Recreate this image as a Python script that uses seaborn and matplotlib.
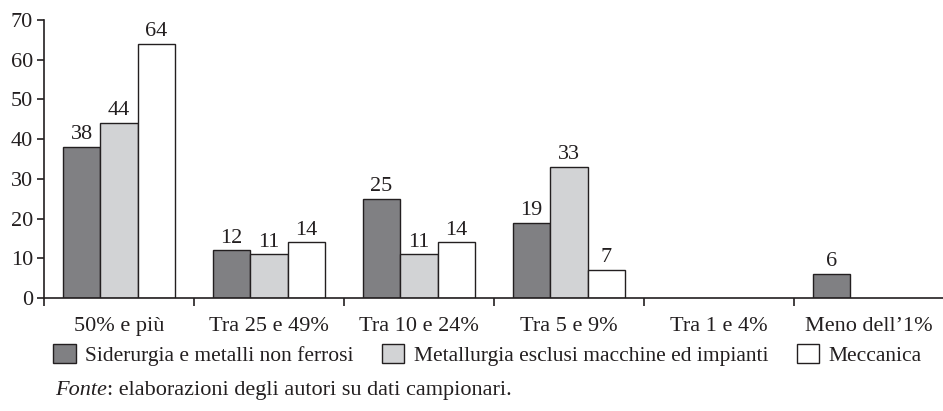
import matplotlib
matplotlib.use('Agg')
import matplotlib.pyplot as plt
import seaborn as sns
import pandas as pd
import numpy as np

# dati
categorie = ['50% e più', 'Tra 25 e 49%', 'Tra 10 e 24%', 'Tra 5 e 9%', 'Tra 1 e 4%', 'Meno dell\u20191%']
settori = ['Siderurgia e metalli non ferrosi', 'Metallurgia esclusi macchine ed impianti', 'Meccanica']
siderurgia = [38, 12, 25, 19, np.nan, 6]
metallurgia = [44, 11, 11, 33, np.nan, np.nan]
meccanica = [64, 14, 14, 7, np.nan, np.nan]
colori = ['#808083', '#d2d3d5', '#ffffff']

df = pd.DataFrame({
    'categoria': categorie * 3,
    'settore': [settori[0]] * 6 + [settori[1]] * 6 + [settori[2]] * 6,
    'valore': siderurgia + metallurgia + meccanica,
})

sns.set_style('ticks')
plt.rcParams['font.family'] = ['Liberation Serif', 'DejaVu Serif']
plt.rcParams['text.color'] = '#231f20'
fs = 16

fig = plt.figure(figsize=(9.43, 4.11), dpi=100)
ax = fig.add_axes([44 / 943, 113 / 411, 900 / 943, 278 / 411])

sns.barplot(data=df.dropna(), x='categoria', y='valore', hue='settore',
            order=categorie, hue_order=settori, palette=colori,
            width=0.75, edgecolor='#231f20', linewidth=1.0, saturation=1,
            ax=ax, legend=True)

# etichette sopra le barre
for cont in ax.containers:
    labels = ['' if np.isnan(v) else f'{v:.0f}' for v in cont.datavalues]
    ax.bar_label(cont, labels=labels, padding=2, fontsize=fs, color='#231f20')

ax.set_xlim(-0.5, 5.5)
ax.set_ylim(0, 70)
ax.set_yticks(range(0, 71, 10))
ax.set_xlabel('')
ax.set_ylabel('')
sns.despine(ax=ax)
for s in ['left', 'bottom']:
    ax.spines[s].set_linewidth(1.2)
    ax.spines[s].set_color('#231f20')

# tacche tra le categorie
ax.set_xticks(np.arange(-0.5, 6, 1), minor=True)
ax.tick_params(axis='x', which='major', length=0, pad=14, labelsize=fs, labelcolor='#231f20')
ax.tick_params(axis='x', which='minor', length=6, width=1.2, color='#231f20')
ax.tick_params(axis='y', length=5, width=1.2, color='#231f20', labelsize=fs, labelcolor='#231f20', pad=3)

ax.get_legend().remove()
handles, labs = ax.get_legend_handles_labels()
fs_leg = 15.5
fig.legend(handles, labs, loc='center left', bbox_to_anchor=(53 / 943, 1 - 355 / 411),
           ncol=3, frameon=False, fontsize=fs_leg, handlelength=1.05, handleheight=1.0,
           handletextpad=0.45, columnspacing=1.3, borderaxespad=0, borderpad=0)

t = fig.text(55 / 943, 1 - 390 / 411, 'Fonte', fontsize=fs, style='italic', va='center')
ax.annotate(': elaborazioni degli autori su dati campionari.', xy=(1, 0), xycoords=t,
            va='bottom', ha='left', fontsize=fs, annotation_clip=False)

fig.savefig('out.png', dpi=100)
